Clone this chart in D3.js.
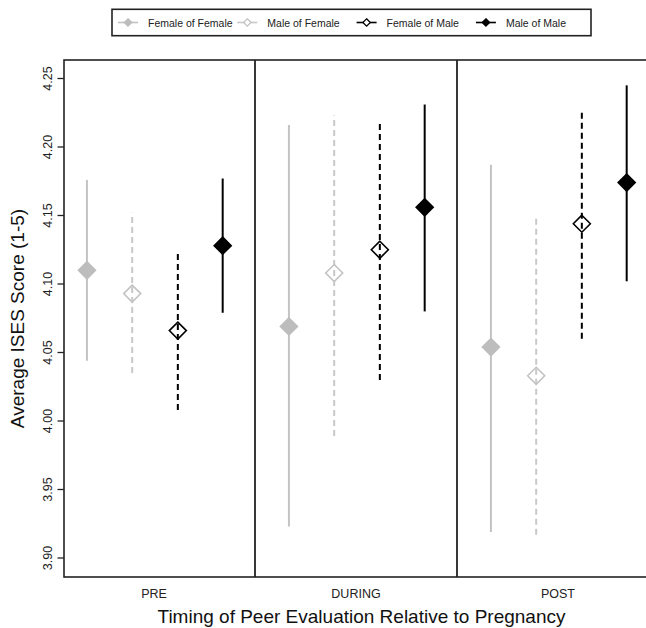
<!DOCTYPE html>
<html><head><meta charset="utf-8">
<script src="https://cdn.jsdelivr.net/npm/d3@7"></script>
<style>body{margin:0;background:#fff}svg{display:block;font-family:"Liberation Sans",Arial,sans-serif}</style>
</head><body><svg id="c" width="646" height="628"></svg>
<script>
const categories = ["PRE", "DURING", "POST"];
const seriesNames = ["Female of Female", "Male of Female", "Female of Male", "Male of Male"];
const means = [
  [4.110, 4.069, 4.054],
  [4.093, 4.108, 4.033],
  [4.066, 4.125, 4.144],
  [4.128, 4.156, 4.174]
];
const lowers = [
  [4.044, 3.923, 3.919],
  [4.035, 3.989, 3.917],
  [4.008, 4.030, 4.060],
  [4.079, 4.080, 4.102]
];
const uppers = [
  [4.176, 4.216, 4.187],
  [4.152, 4.223, 4.149],
  [4.123, 4.217, 4.227],
  [4.177, 4.231, 4.245]
];
const yTicks = [3.90, 3.95, 4.00, 4.05, 4.10, 4.15, 4.20, 4.25];
const offsets = [-0.332, -0.108, 0.118, 0.340];

const styles = [
  {line:"#c3c3c3", dash:null, fill:"#bdbdbd", stroke:"#bdbdbd"},
  {line:"#c8c8c8", dash:"6,4", fill:"none", stroke:"#c3c3c3"},
  {line:"#000", dash:"6,4", fill:"none", stroke:"#000"},
  {line:"#000", dash:null, fill:"#000", stroke:"#000"}
];

(function(){
const svg = d3.select("#c");
const pLeft = 64, pTop = 60, pBottom = 577;
const x = d3.scaleLinear().domain([1, 3]).range([154, 558]);
const y = d3.scaleLinear().domain([3.90, 4.25]).range([558, 78.5]);
const xR = x(3.5);

function diamondPath(r){ return `M0,${-r}L${r},0L0,${r}L${-r},0Z`; }

const g = svg.append("g");
seriesNames.forEach((s, si) => {
  categories.forEach((c, ci) => {
    const px = x(ci + 1 + offsets[si]);
    const st = styles[si];
    g.append("line").attr("x1", px).attr("x2", px)
      .attr("y1", y(lowers[si][ci])).attr("y2", y(uppers[si][ci]))
      .attr("stroke", st.line).attr("stroke-width", 2)
      .attr("stroke-dasharray", st.dash);
    g.append("path").attr("d", diamondPath(8.5))
      .attr("transform", `translate(${px},${y(means[si][ci])})`)
      .attr("fill", st.fill).attr("stroke", st.stroke).attr("stroke-width", 1.6);
  });
});

svg.append("rect").attr("x", pLeft).attr("y", pTop).attr("width", xR - pLeft).attr("height", pBottom - pTop)
  .attr("fill", "none").attr("stroke", "#222").attr("stroke-width", 1.6);
[1.5, 2.5].forEach(v => svg.append("line").attr("x1", x(v)).attr("x2", x(v)).attr("y1", pTop).attr("y2", pBottom)
  .attr("stroke", "#222").attr("stroke-width", 1.8));

const yAxis = svg.append("g");
yTicks.forEach(t => {
  yAxis.append("line").attr("x1", pLeft - 6.5).attr("x2", pLeft).attr("y1", y(t)).attr("y2", y(t)).attr("stroke", "#222").attr("stroke-width", 1.3);
  yAxis.append("text").attr("transform", `translate(${pLeft - 12},${y(t)}) rotate(-90)`)
    .attr("text-anchor", "middle").attr("font-size", 12.5).attr("fill", "#222").text(d3.format(".2f")(t));
});
svg.append("text").attr("transform", `translate(24,${(pTop + pBottom) / 2}) rotate(-90)`)
  .attr("text-anchor", "middle").attr("font-size", 19).attr("fill", "#111").text("Average ISES Score (1-5)");

categories.forEach((c, ci) => {
  svg.append("text").attr("x", x(ci + 1)).attr("y", 598).attr("text-anchor", "middle")
    .attr("font-size", 12.5).attr("fill", "#222").text(c);
});
svg.append("text").attr("x", (pLeft + xR) / 2).attr("y", 623).attr("text-anchor", "middle")
  .attr("font-size", 19).attr("fill", "#111").text("Timing of Peer Evaluation Relative to Pregnancy");

const lg = svg.append("g");
lg.append("rect").attr("x", 112).attr("y", 9.3).attr("width", 479).attr("height", 26.4).attr("fill", "#fff")
  .attr("stroke", "#222").attr("stroke-width", 1.6);
seriesNames.forEach((s, si) => {
  const st = styles[si];
  const tx = 148 + si * 119.3;
  const dx = tx - 20;
  lg.append("line").attr("x1", dx - 10).attr("x2", dx + 10).attr("y1", 22.5).attr("y2", 22.5)
    .attr("stroke", st.line).attr("stroke-width", 1.6);
  lg.append("path").attr("d", diamondPath(3.7)).attr("transform", `translate(${dx},22.5)`)
    .attr("fill", st.fill === "none" ? "#fff" : st.fill).attr("stroke", st.stroke).attr("stroke-width", 1.3);
  lg.append("text").attr("x", tx).attr("y", 26.5).attr("font-size", 10.5).attr("fill", "#222").text(s);
});
})();
</script></body></html>
